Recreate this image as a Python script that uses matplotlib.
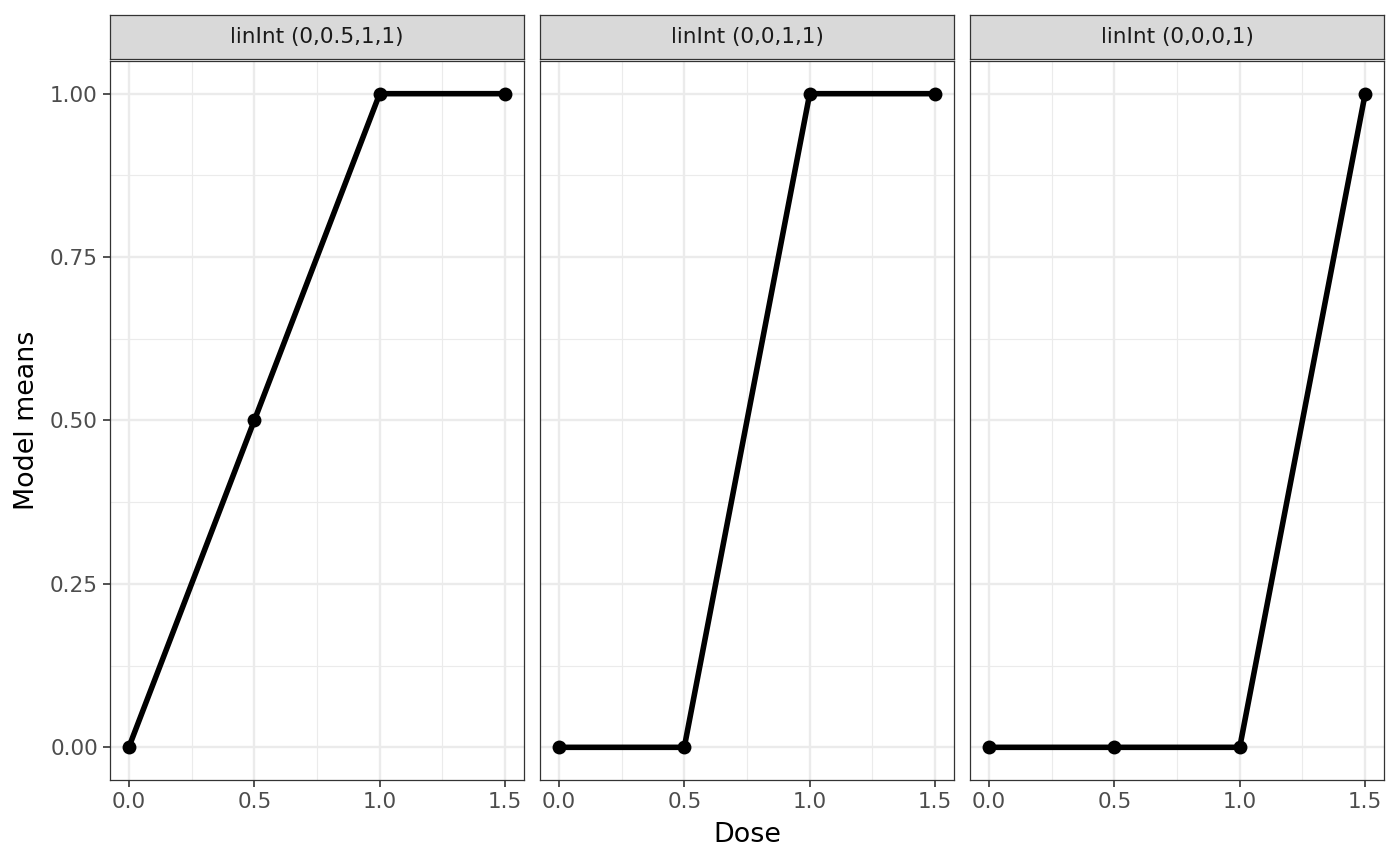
import matplotlib
matplotlib.use("Agg")
import matplotlib.pyplot as plt

titles = ["linInt (0,0.5,1,1)", "linInt (0,0,1,1)", "linInt (0,0,0,1)"]
dose = [0.0, 0.5, 1.0, 1.5]
means = [
    [0.0, 0.5, 1.0, 1.0],
    [0.0, 0.0, 1.0, 1.0],
    [0.0, 0.0, 0.0, 1.0],
]
xticks = [0.0, 0.5, 1.0, 1.5]
xticklabels = ["0.0", "0.5", "1.0", "1.5"]
yticks = [0.0, 0.25, 0.5, 0.75, 1.0]
yticklabels = ["0.00", "0.25", "0.50", "0.75", "1.00"]

W, H = 1400, 866
fig = plt.figure(figsize=(W / 100, H / 100), dpi=100)
fig.patch.set_facecolor("white")

lefts = [110, 540, 970]
pw = 414
ptop, pbot = 61, 780
stop, sbot = 15, 58.5

for i, (l, t, m) in enumerate(zip(lefts, titles, means)):
    ax = fig.add_axes([l / W, 1 - pbot / H, pw / W, (pbot - ptop) / H])
    ax.set_xlim(-0.075, 1.575)
    ax.set_ylim(-0.05, 1.05)
    ax.set_xticks(xticks)
    ax.set_xticklabels(xticklabels)
    ax.set_xticks([0.25, 0.75, 1.25], minor=True)
    ax.set_yticks(yticks)
    ax.set_yticks([0.125, 0.375, 0.625, 0.875], minor=True)
    ax.tick_params(axis="both", which="major", colors="#333333", labelcolor="#4D4D4D",
                   labelsize=15.5, length=4.8, width=1.2, pad=3.9)
    ax.tick_params(axis="both", which="minor", length=0)
    if i == 0:
        ax.set_yticklabels(yticklabels)
    else:
        ax.set_yticklabels([])
        ax.tick_params(axis="y", which="major", length=0)
    ax.grid(True, which="major", color="#EBEBEB", linewidth=1.7)
    ax.grid(True, which="minor", color="#EBEBEB", linewidth=0.85)
    ax.set_axisbelow(True)
    for s in ax.spines.values():
        s.set_color("#333333")
        s.set_linewidth(0.9)
    ax.plot(dose, m, color="black", linewidth=4.0, solid_capstyle="butt", zorder=3)
    ax.scatter(dose, m, s=100, color="black", linewidths=0, zorder=4)
    # strip
    sax = fig.add_axes([l / W, 1 - sbot / H, pw / W, (sbot - stop) / H])
    sax.set_xlim(0, 1)
    sax.set_ylim(0, 1)
    sax.set_xticks([])
    sax.set_yticks([])
    sax.set_facecolor("#D9D9D9")
    for s in sax.spines.values():
        s.set_color("#333333")
        s.set_linewidth(0.9)
    sax.text(0.5, 0.5, t, ha="center", va="center", fontsize=15.5, color="#1A1A1A")

fig.text((110 + 1384) / 2 / W, 1 - 835 / H, "Dose", ha="center", va="center", fontsize=19.4)
fig.text(27 / W, 1 - 420 / H, "Model means", ha="center", va="center", rotation=90, fontsize=19.4)

fig.savefig("out.png", dpi=100, facecolor="white")
